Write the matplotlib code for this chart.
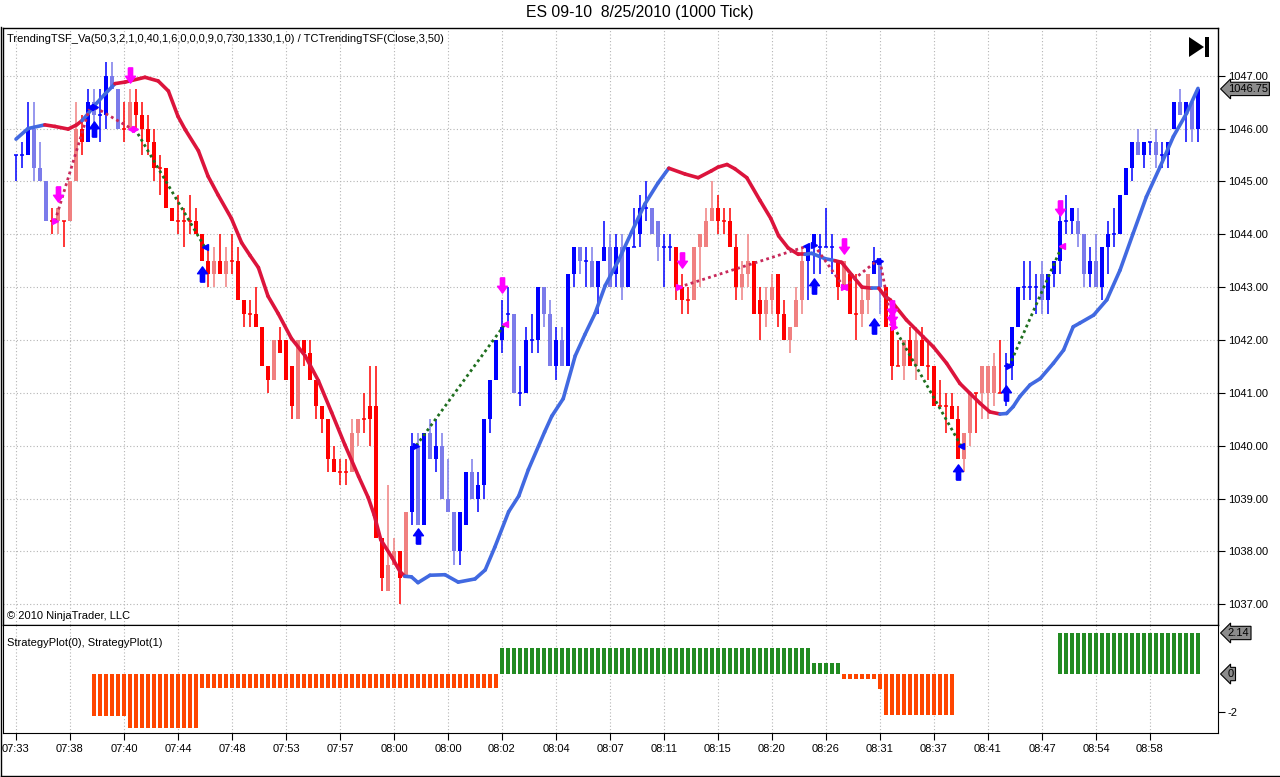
import numpy as np
import matplotlib
matplotlib.use("Agg")
import matplotlib.pyplot as plt
from matplotlib.path import Path
from matplotlib.collections import LineCollection
from matplotlib.patches import Polygon, Rectangle

plt.rcParams['font.family'] = ['Liberation Sans', 'DejaVu Sans']

# ---- price bars (1000 tick) ----
opens = [1045.5, 1045.5, 1045.5, 1046.0, 1045.25, 1045.0, 1044.25, 1044.25, 1044.25, 1044.25,
         1045.0, 1046.0, 1045.75, 1046.5, 1046.25, 1046.25, 1047.0, 1046.75, 1046.0, 1046.0,
         1046.5, 1046.25, 1046.0, 1045.75, 1045.25, 1045.25, 1044.5, 1044.25, 1044.25, 1044.25,
         1044.25, 1044.0, 1043.5, 1043.25, 1043.5, 1043.25, 1043.5, 1043.5, 1042.75, 1042.5,
         1042.5, 1042.25, 1041.5, 1041.25, 1042.0, 1042.0, 1041.5, 1040.5, 1042.0, 1041.75,
         1041.25, 1040.75, 1040.5, 1039.75, 1039.5, 1039.5, 1039.5, 1040.25, 1040.5, 1040.75,
         1040.75, 1038.25, 1037.25, 1037.75, 1038.0, 1037.5, 1038.75, 1040.0, 1038.5, 1040.25,
         1039.75, 1040.0, 1039.0, 1038.75, 1038.0, 1038.5, 1039.5, 1039.0, 1039.25, 1040.5,
         1041.25, 1042.0, 1042.5, 1042.5, 1041.0, 1041.0, 1042.0, 1042.0, 1043.0, 1042.5,
         1041.5, 1042.0, 1041.5, 1043.25, 1043.75, 1043.5, 1043.5, 1043.0, 1043.5, 1043.75,
         1043.25, 1043.75, 1043.0, 1043.75, 1044.0, 1044.5, 1044.5, 1044.25, 1043.75, 1043.75,
         1043.75, 1043.0, 1042.75, 1042.75, 1043.75, 1043.75, 1044.25, 1044.5, 1044.25, 1044.25,
         1043.75, 1043.0, 1043.25, 1043.5, 1042.75, 1042.5, 1042.75, 1043.25, 1042.5, 1042.0,
         1042.25, 1042.75, 1043.5, 1043.75, 1043.75, 1043.75, 1043.75, 1043.5, 1043.0, 1043.25,
         1042.5, 1042.5, 1042.75, 1043.25, 1043.5, 1043.0, 1042.25, 1041.5, 1041.5, 1042.0,
         1041.5, 1042.0, 1041.5, 1041.5, 1040.75, 1040.75, 1040.75, 1040.5, 1039.75, 1040.25,
         1041.0, 1041.0, 1041.0, 1041.0, 1041.0, 1041.5, 1041.5, 1042.25, 1043.0, 1043.0,
         1043.0, 1043.25, 1042.75, 1043.25, 1043.5, 1044.25, 1044.25, 1044.25, 1044.0, 1043.25,
         1043.5, 1043.0, 1043.75, 1044.0, 1044.0, 1044.75, 1045.25, 1045.75, 1045.5, 1045.75,
         1045.75, 1045.5, 1045.5, 1046.0, 1046.5, 1046.25, 1046.5, 1046.0]
highs = [1045.5, 1045.75, 1046.5, 1046.5, 1045.75, 1045.0, 1044.5, 1044.5, 1044.25, 1045.0,
         1046.5, 1046.25, 1046.75, 1046.75, 1046.75, 1047.25, 1047.25, 1046.75, 1046.5, 1046.75,
         1046.75, 1046.5, 1046.25, 1046.0, 1045.5, 1045.25, 1044.5, 1044.75, 1044.5, 1044.75,
         1044.5, 1044.0, 1043.75, 1043.75, 1044.0, 1043.75, 1044.0, 1043.75, 1042.75, 1042.75,
         1043.0, 1042.25, 1041.5, 1042.0, 1042.25, 1042.0, 1041.5, 1042.0, 1042.0, 1042.0,
         1041.25, 1040.75, 1040.5, 1040.0, 1039.75, 1039.75, 1040.5, 1040.5, 1041.0, 1041.5,
         1041.5, 1038.25, 1039.25, 1038.25, 1038.0, 1038.75, 1040.25, 1040.25, 1040.25, 1040.5,
         1040.5, 1040.25, 1039.75, 1038.75, 1038.75, 1039.5, 1039.75, 1039.5, 1040.5, 1041.25,
         1042.0, 1042.75, 1043.0, 1042.5, 1041.5, 1042.25, 1042.5, 1043.0, 1043.0, 1042.75,
         1042.25, 1042.25, 1043.25, 1043.75, 1043.75, 1043.75, 1043.75, 1043.5, 1044.25, 1044.0,
         1044.0, 1044.0, 1043.75, 1044.5, 1044.75, 1045.0, 1044.5, 1044.25, 1044.0, 1044.0,
         1043.75, 1043.25, 1043.0, 1043.75, 1044.0, 1044.5, 1045.0, 1044.75, 1044.5, 1044.5,
         1044.0, 1043.5, 1044.0, 1043.5, 1043.0, 1043.0, 1043.25, 1043.25, 1042.75, 1042.25,
         1043.0, 1043.75, 1043.75, 1044.0, 1044.0, 1044.5, 1044.0, 1043.5, 1043.5, 1043.25,
         1043.25, 1043.0, 1043.25, 1043.75, 1043.5, 1043.0, 1042.25, 1042.0, 1042.0, 1042.25,
         1042.25, 1042.25, 1042.0, 1041.5, 1041.25, 1041.0, 1041.0, 1040.75, 1040.25, 1041.0,
         1041.0, 1041.5, 1041.5, 1041.75, 1042.0, 1041.75, 1042.25, 1043.0, 1043.5, 1043.5,
         1043.25, 1043.5, 1043.25, 1043.5, 1044.5, 1044.75, 1044.5, 1044.5, 1044.0, 1043.75,
         1044.0, 1043.75, 1044.25, 1044.5, 1044.75, 1045.25, 1045.75, 1046.0, 1045.75, 1045.75,
         1046.0, 1045.75, 1045.75, 1046.5, 1046.75, 1046.5, 1046.5, 1046.75]
lows = [1045.0, 1045.25, 1045.5, 1045.0, 1045.0, 1044.25, 1044.0, 1044.0, 1043.75, 1044.25,
        1045.0, 1045.5, 1045.75, 1046.0, 1045.75, 1046.0, 1046.75, 1046.0, 1045.75, 1046.0,
        1046.0, 1045.5, 1045.5, 1045.0, 1044.75, 1044.5, 1044.25, 1044.0, 1043.75, 1044.0,
        1044.0, 1043.5, 1043.0, 1043.0, 1043.25, 1043.0, 1043.25, 1042.75, 1042.25, 1042.25,
        1042.25, 1041.5, 1041.0, 1041.25, 1041.75, 1041.25, 1040.5, 1040.5, 1041.5, 1041.25,
        1040.5, 1040.25, 1039.5, 1039.5, 1039.25, 1039.25, 1039.5, 1040.0, 1040.25, 1040.0,
        1038.25, 1037.25, 1037.25, 1037.75, 1037.0, 1037.5, 1038.5, 1038.5, 1038.5, 1039.75,
        1039.5, 1039.0, 1038.75, 1037.75, 1037.75, 1038.5, 1039.0, 1038.75, 1039.0, 1040.25,
        1041.25, 1041.75, 1042.25, 1041.0, 1040.75, 1041.0, 1041.75, 1041.75, 1042.25, 1041.5,
        1041.25, 1041.5, 1041.5, 1043.0, 1043.25, 1043.0, 1043.0, 1042.5, 1043.5, 1043.0,
        1043.0, 1042.75, 1043.0, 1043.75, 1043.75, 1044.25, 1044.0, 1043.5, 1043.0, 1043.5,
        1042.75, 1042.5, 1042.5, 1042.75, 1043.0, 1043.75, 1044.25, 1044.0, 1044.0, 1043.75,
        1042.75, 1042.75, 1043.0, 1042.5, 1042.0, 1042.25, 1042.5, 1042.25, 1042.0, 1041.75,
        1042.25, 1042.5, 1042.75, 1043.25, 1043.25, 1043.75, 1043.25, 1042.75, 1043.0, 1042.5,
        1042.0, 1042.25, 1042.5, 1043.25, 1042.5, 1042.25, 1041.25, 1041.5, 1041.25, 1041.5,
        1041.25, 1041.5, 1041.25, 1040.75, 1040.75, 1040.25, 1040.5, 1039.75, 1039.5, 1040.0,
        1040.25, 1040.5, 1040.5, 1040.75, 1041.0, 1040.75, 1041.25, 1042.25, 1042.75, 1042.75,
        1042.5, 1042.5, 1042.5, 1043.0, 1043.25, 1044.0, 1044.0, 1043.75, 1043.0, 1043.0,
        1043.0, 1042.75, 1043.25, 1043.75, 1044.0, 1044.75, 1045.0, 1045.5, 1045.25, 1045.5,
        1045.25, 1045.25, 1045.25, 1046.0, 1046.25, 1045.75, 1045.75, 1045.75]
closes = [1045.5, 1045.5, 1046.0, 1045.25, 1045.0, 1044.25, 1044.25, 1044.5, 1044.25, 1045.0,
          1046.0, 1045.75, 1046.5, 1046.25, 1046.25, 1047.0, 1046.75, 1046.0, 1046.0, 1046.5,
          1046.25, 1046.0, 1045.75, 1045.25, 1045.25, 1044.5, 1044.25, 1044.25, 1044.25, 1044.25,
          1044.0, 1043.5, 1043.25, 1043.5, 1043.25, 1043.5, 1043.5, 1042.75, 1042.5, 1042.5,
          1042.25, 1041.5, 1041.25, 1042.0, 1041.75, 1041.25, 1040.75, 1042.0, 1041.75, 1041.25,
          1040.75, 1040.5, 1039.75, 1039.5, 1039.5, 1039.5, 1040.25, 1040.5, 1040.5, 1040.5,
          1038.25, 1037.5, 1037.75, 1038.0, 1037.5, 1038.75, 1040.0, 1038.5, 1040.25, 1039.75,
          1040.0, 1039.0, 1038.75, 1038.0, 1038.75, 1039.5, 1039.0, 1039.25, 1040.5, 1041.25,
          1042.0, 1042.25, 1042.5, 1041.0, 1041.0, 1042.0, 1042.0, 1043.0, 1042.5, 1041.5,
          1042.0, 1041.5, 1043.25, 1043.75, 1043.5, 1043.5, 1043.0, 1043.5, 1043.75, 1043.0,
          1043.75, 1043.0, 1043.75, 1043.75, 1044.5, 1044.5, 1044.0, 1043.75, 1043.75, 1043.75,
          1043.0, 1042.75, 1042.75, 1043.75, 1044.0, 1044.25, 1044.5, 1044.25, 1044.25, 1043.75,
          1043.0, 1043.25, 1043.5, 1042.5, 1042.5, 1042.75, 1043.0, 1042.5, 1042.0, 1042.25,
          1042.75, 1043.5, 1043.75, 1044.0, 1043.75, 1043.75, 1043.75, 1043.0, 1043.5, 1042.5,
          1042.5, 1042.75, 1043.25, 1043.5, 1043.0, 1042.25, 1041.5, 1041.5, 1042.0, 1041.5,
          1042.0, 1041.5, 1041.5, 1040.75, 1040.75, 1040.75, 1040.5, 1039.75, 1040.25, 1041.0,
          1041.0, 1041.5, 1041.5, 1041.5, 1041.0, 1041.5, 1042.25, 1043.0, 1043.0, 1043.0,
          1043.0, 1042.75, 1043.25, 1043.5, 1044.25, 1044.25, 1044.5, 1044.0, 1043.25, 1043.5,
          1043.0, 1043.75, 1044.0, 1044.0, 1044.75, 1045.25, 1045.75, 1045.5, 1045.75, 1045.75,
          1045.5, 1045.5, 1045.75, 1046.5, 1046.25, 1046.5, 1046.0, 1046.75]

# bar index where each trend run starts (first run is an up trend, then alternating)
bar_trend_starts = [0, 6, 12, 18, 66, 110, 132, 137, 143, 145, 165]

# TrendingTSF line, sampled points (bar index, price)
tsf_x = [0, 2, 4.8, 6.5, 8.7, 10.1, 11, 12, 13.2, 14.8, 16.5, 18.2, 21.5, 23.7, 25.4, 27,
         28.2, 30.4, 32, 33.7, 35.9, 37.6, 39, 40.4, 42, 43.7, 45.9, 48.2, 50.4, 52.6, 54.8,
         57.1, 58.7, 59.7, 60.8, 62.7, 64, 64.8, 65.9, 67, 69, 71.5, 73.7, 76.5, 78.2, 79.8,
         82.1, 83.8, 85.4, 88.1, 89.3, 91.2, 93.2, 94.8, 96.5, 98.2, 100.4, 102.6, 104.8, 107,
         108.8, 111.5, 113.7, 115.9, 117, 118.5, 119.8, 121.8, 124, 125.8, 127.1, 128.7, 130.4,
         131.5, 132.6, 134.8, 136.5, 137.6, 139.3, 141, 142.6, 143.8, 144.8, 145.7, 148.4,
         151.2, 152.9, 155.1, 157.3, 159, 160.7, 162.3, 164, 165.1, 166.2, 167.3, 169, 170.7,
         172.9, 174.6, 176.2, 177.3, 179.6, 181.8, 184, 186.2, 188.4, 190.7, 192.9, 195.1, 197]
tsf_y = [1045.8, 1046.0, 1046.07, 1046.04, 1045.99, 1046.07, 1046.15, 1046.28, 1046.45, 1046.65,
         1046.85, 1046.88, 1046.97, 1046.9, 1046.71, 1046.23, 1045.98, 1045.58, 1045.1, 1044.74,
         1044.3, 1043.84, 1043.6, 1043.37, 1042.83, 1042.5, 1042.03, 1041.7, 1041.23, 1040.63,
         1040.02, 1039.42, 1039.02, 1038.69, 1038.22, 1037.88, 1037.62, 1037.53, 1037.52, 1037.41,
         1037.55, 1037.56, 1037.42, 1037.48, 1037.65, 1038.08, 1038.75, 1039.05, 1039.55, 1040.26,
         1040.56, 1040.89, 1041.7, 1042.1, 1042.5, 1043.03, 1043.5, 1044.04, 1044.57, 1044.97,
         1045.25, 1045.14, 1045.07, 1045.2, 1045.27, 1045.32, 1045.24, 1045.07, 1044.64, 1044.3,
         1043.97, 1043.74, 1043.62, 1043.62, 1043.64, 1043.54, 1043.5, 1043.47, 1043.23, 1043.0,
         1042.98, 1042.98, 1042.83, 1042.76, 1042.38, 1042.06, 1041.87, 1041.56, 1041.18, 1040.99,
         1040.8, 1040.64, 1040.6, 1040.61, 1040.74, 1040.93, 1041.15, 1041.27, 1041.56, 1041.81,
         1042.25, 1042.32, 1042.47, 1042.76, 1043.32, 1044.02, 1044.71, 1045.28, 1045.85, 1046.29,
         1046.76]
# bar positions where the line changes colour (starts blue)
tsf_switch = [4.8, 11, 16.5, 64.8, 108.8, 131.5, 136.5, 142.6, 143.8, 164]

# strategy trades: entry bar, entry price, exit bar, exit price, side, winner
trade_x0 = [6.5, 13.2, 19.8, 66.7, 110.5, 133, 138, 144, 146.3, 165.5]
trade_p0 = [1044.25, 1046.4, 1046.0, 1040.0, 1043.0, 1043.8, 1043.0, 1043.5, 1042.25, 1041.5]
trade_x1 = [12.3, 19.2, 31.5, 81.5, 131.7, 138, 143.5, 146, 157.5, 174.3]
trade_p1 = [1046.4, 1046.0, 1043.75, 1042.3, 1043.77, 1043.0, 1043.5, 1042.3, 1040.0, 1043.77]
trade_long = [False, True, False, True, False, True, False, True, False, True]
trade_win = [False, False, True, True, False, False, False, False, True, True]

# signal arrows (bar, price)
sell_arrow_x = [7, 19, 81, 111, 138, 146, 146, 174]
sell_arrow_p = [1044.77, 1047.02, 1043.04, 1043.52, 1043.77, 1042.6, 1042.45, 1044.5]
buy_arrow_x = [13, 31, 67, 133, 143, 157, 165]
buy_arrow_p = [1046.0, 1043.24, 1038.29, 1043.03, 1042.26, 1039.51, 1041.0]

# StrategyPlot runs: first bar, last bar, value
strat_first = [13, 19, 31, 81, 133, 138, 144, 145, 174]
strat_last = [18, 30, 80, 132, 137, 143, 144, 156, 197]
strat_value = [-2.2, -2.8, -0.72, 1.38, 0.56, -0.24, -0.8, -2.14, 2.14]

time_labels = ["07:33", "07:38", "07:40", "07:44", "07:48", "07:53", "07:57", "08:00", "08:00",
               "08:02", "08:04", "08:07", "08:11", "08:15", "08:20", "08:26", "08:31", "08:37",
               "08:41", "08:47", "08:54", "08:58"]

# ---- colours ----
UP_DARK = '#0000ff'
UP_LIGHT = '#7b7bea'
DN_DARK = '#ff0000'
DN_LIGHT = '#f08080'
LINE_UP = '#4169e1'
LINE_DN = '#dc143c'
GRID = '#b4b4b4'

W, H = 1280, 777
fig = plt.figure(figsize=(W / 100, H / 100), dpi=100)


def fx(px):
    return px / W


def fy(py):
    return 1 - py / H


ax = fig.add_axes([fx(3), fy(625.3), fx(1218 - 3), (625.3 - 27.7) / H])
ax2 = fig.add_axes([fx(3), fy(733.3), fx(1218 - 3), (733.3 - 625.3) / H], sharex=ax)

o = np.array(opens)
hi = np.array(highs)
lo = np.array(lows)
c = np.array(closes)
n = len(c)
x = np.arange(n)

# trend per bar
up_trend = np.zeros(n, dtype=bool)
for k, s in enumerate(bar_trend_starts):
    e = bar_trend_starts[k + 1] if k + 1 < len(bar_trend_starts) else n
    up_trend[s:e] = (k % 2 == 0)

cols = []
for i in range(n):
    if up_trend[i]:
        cols.append(UP_DARK if c[i] >= o[i] else UP_LIGHT)
    else:
        cols.append(DN_DARK if c[i] <= o[i] else DN_LIGHT)

# grid
xt = np.arange(0, n, 9)
for a in (ax, ax2):
    for t in xt:
        a.axvline(t, color=GRID, lw=0.8, ls=(0, (1, 2)), zorder=0)
for p in range(1037, 1048):
    ax.axhline(p, color=GRID, lw=0.8, ls=(0, (1, 2)), zorder=0)

# candles
ax.vlines(x, lo, hi, colors=cols, lw=1.1, zorder=2)
body = np.abs(c - o)
doji = body == 0
ax.bar(x[~doji], body[~doji], bottom=np.minimum(o, c)[~doji], width=0.78,
       color=np.array(cols)[~doji], lw=0, zorder=3)
ax.hlines(o[doji], x[doji] - 0.4, x[doji] + 0.4, colors=np.array(cols)[doji], lw=1.1, zorder=3)

# TSF line with trend colouring
pts = np.column_stack([tsf_x, tsf_y])
segs = np.stack([pts[:-1], pts[1:]], axis=1)
mid = (pts[:-1, 0] + pts[1:, 0]) / 2
seg_cols = [LINE_UP if np.searchsorted(tsf_switch, m) % 2 == 0 else LINE_DN for m in mid]
ax.add_collection(LineCollection(segs, colors=seg_cols, lw=2.6, capstyle='round',
                                 joinstyle='round', zorder=4))

# trades
for k in range(len(trade_x0)):
    lc = '#1f6f1f' if trade_win[k] else '#c8285a'
    ax.plot([trade_x0[k], trade_x1[k]], [trade_p0[k], trade_p1[k]], color=lc, lw=2,
            ls=(0, (1, 1.2)), zorder=5)
    c0 = UP_DARK if trade_long[k] else '#ff00ff'
    c1 = '#ff00ff' if trade_long[k] else UP_DARK
    ax.plot(trade_x0[k], trade_p0[k], marker='>', ms=5, color=c0, mec=c0, zorder=6)
    ax.plot(trade_x1[k], trade_p1[k], marker='<', ms=5, color=c1, mec=c1, zorder=6)

# arrows
up_verts = [(-0.28, -1), (0.28, -1), (0.28, 0.1), (0.65, 0.1), (0, 1), (-0.65, 0.1),
            (-0.28, 0.1), (-0.28, -1)]
up_arrow = Path(up_verts)
down_arrow = Path([(vx, -vy) for vx, vy in up_verts])
ax.plot(sell_arrow_x, sell_arrow_p, ls='none', marker=down_arrow, ms=11, color='#ff00ff',
        mec='#ff00ff', zorder=7)
ax.plot(buy_arrow_x, buy_arrow_p, ls='none', marker=up_arrow, ms=11, color=UP_DARK,
        mec=UP_DARK, zorder=7)

ax.set_xlim((3 - 16) / 6, (1218 - 16) / 6)
ax.set_ylim(1036.603, 1047.908)
ax.yaxis.tick_right()
ax.set_yticks(np.arange(1037, 1048))
ax.set_yticklabels(['%.2f' % v for v in range(1037, 1048)])
ax.tick_params(axis='y', direction='out', length=5, width=0.8, pad=2, labelsize=8)
ax.tick_params(axis='x', bottom=False, labelbottom=False)
for s in ax.spines.values():
    s.set_linewidth(1)

ax.annotate('1046.75', xy=(1, 1046.75), xycoords=('axes fraction', 'data'),
            xytext=(7, 0), textcoords='offset points', ha='left', va='center', fontsize=8,
            bbox=dict(boxstyle='larrow,pad=0.15', fc='#8c8c8c', ec='black', lw=0.8))

# strategy plot panel
for f, l, v in zip(strat_first, strat_last, strat_value):
    bx = np.arange(f, l + 1)
    ax2.bar(bx, np.full(len(bx), v), width=0.72, color='#228b22' if v > 0 else '#ff4500',
            lw=0, zorder=3)
ax2.set_ylim(-3.09, 2.54)
ax2.yaxis.tick_right()
ax2.set_yticks([-2])
ax2.set_yticklabels(['-2'])
ax2.tick_params(axis='y', direction='out', length=5, width=0.8, pad=2, labelsize=8)
ax2.set_xticks(xt)
ax2.set_xticklabels(time_labels)
ax2.tick_params(axis='x', direction='out', length=5, width=0.8, pad=3, labelsize=8)
for lab, val in (('2.14', 2.14), ('0', 0)):
    ax2.annotate(lab, xy=(1, val), xycoords=('axes fraction', 'data'),
                 xytext=(7, 0), textcoords='offset points', ha='left', va='center',
                 fontsize=8,
                 bbox=dict(boxstyle='larrow,pad=0.15', fc='#8c8c8c', ec='black', lw=0.8))

# texts
fig.text(0.5, fy(13), 'ES 09-10  8/25/2010 (1000 Tick)', ha='center', va='center', fontsize=11.3)
fig.text(fx(7), fy(39), 'TrendingTSF_Va(50,3,2,1,0,40,1,6,0,0,0,9,0,730,1330,1,0) / '
         'TCTrendingTSF(Close,3,50)', ha='left', va='center', fontsize=8)
fig.text(fx(7), fy(616), '\u00a9 2010 NinjaTrader, LLC', ha='left', va='center', fontsize=8)
fig.text(fx(7), fy(643), 'StrategyPlot(0), StrategyPlot(1)', ha='left', va='center',
         fontsize=8)

# play-to-end icon
fig.patches.append(Polygon([(fx(1189), fy(37)), (fx(1189), fy(57)), (fx(1204), fy(47))],
                           closed=True, transform=fig.transFigure, fc='black', ec='none'))
fig.patches.append(Rectangle((fx(1205), fy(57)), fx(4), 20 / H, transform=fig.transFigure,
                             fc='black', ec='none'))

# outer frame (left and bottom)
fig.lines.append(plt.Line2D([fx(0.5), fx(0.5)], [fy(27), fy(776)], transform=fig.transFigure,
                            color='black', lw=1))
fig.lines.append(plt.Line2D([fx(0.5), fx(1279)], [fy(776), fy(776)], transform=fig.transFigure,
                            color='black', lw=1))

fig.savefig('out.png', dpi=100)
